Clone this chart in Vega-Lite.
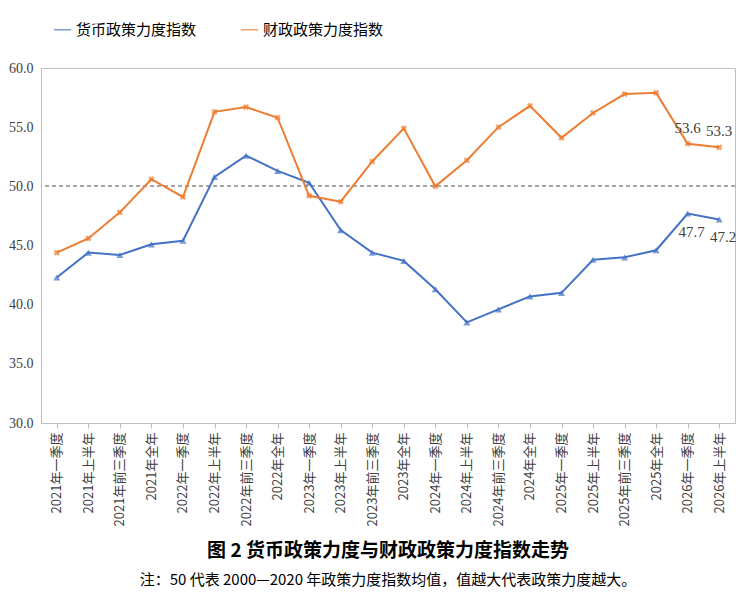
{
  "$schema": "https://vega.github.io/schema/vega-lite/v6.json",
  "width": 750,
  "height": 593,
  "autosize": {"type": "fit", "contains": "padding"},
  "background": "white",
  "padding": {"left": 8, "right": 14, "top": 8, "bottom": 5},
  "config": {"font": "Noto Sans CJK SC", "view": {"stroke": "#bfbfbf"}},
  "title": {
    "text": "图 2  货币政策力度与财政政策力度指数走势",
    "subtitle": "注：50 代表 2000—2020 年政策力度指数均值，值越大代表政策力度越大。",
    "orient": "bottom",
    "anchor": "middle",
    "fontSize": 19,
    "fontWeight": "bold",
    "subtitleFontSize": 15,
    "subtitleColor": "black",
    "subtitlePadding": 12,
    "offset": 16
  },
  "data": {"values": [
    {"q": "2021年一季度", "m": 42.3, "f": 44.4},
    {"q": "2021年上半年", "m": 44.4, "f": 45.6},
    {"q": "2021年前三季度", "m": 44.2, "f": 47.8},
    {"q": "2021年全年", "m": 45.1, "f": 50.6},
    {"q": "2022年一季度", "m": 45.4, "f": 49.1},
    {"q": "2022年上半年", "m": 50.8, "f": 56.3},
    {"q": "2022年前三季度", "m": 52.6, "f": 56.7},
    {"q": "2022年全年", "m": 51.3, "f": 55.8},
    {"q": "2023年一季度", "m": 50.3, "f": 49.2},
    {"q": "2023年上半年", "m": 46.3, "f": 48.7},
    {"q": "2023年前三季度", "m": 44.4, "f": 52.1},
    {"q": "2023年全年", "m": 43.7, "f": 54.9},
    {"q": "2024年一季度", "m": 41.3, "f": 50.0},
    {"q": "2024年上半年", "m": 38.5, "f": 52.2},
    {"q": "2024年前三季度", "m": 39.6, "f": 55.0},
    {"q": "2024年全年", "m": 40.7, "f": 56.8},
    {"q": "2025年一季度", "m": 41.0, "f": 54.1},
    {"q": "2025年上半年", "m": 43.8, "f": 56.2},
    {"q": "2025年前三季度", "m": 44.0, "f": 57.8},
    {"q": "2025年全年", "m": 44.6, "f": 57.9},
    {"q": "2026年一季度", "m": 47.7, "f": 53.6, "lab": true},
    {"q": "2026年上半年", "m": 47.2, "f": 53.3, "lab": true}
  ]},
  "transform": [
    {"fold": ["m", "f"], "as": ["k", "v"]},
    {"calculate": "datum.k == 'm' ? '货币政策力度指数' : '财政政策力度指数'", "as": "series"}
  ],
  "encoding": {
    "x": {"field": "q", "type": "ordinal", "sort": null, "title": null,
      "axis": {"labelAngle": -90, "labelFontSize": 13, "labelColor": "#404040", "ticks": true, "tickColor": "#bfbfbf", "domainColor": "#bfbfbf", "labelPadding": 4}},
    "y": {"field": "v", "type": "quantitative", "title": null,
      "scale": {"domain": [30, 60]},
      "axis": {"values": [30, 35, 40, 45, 50, 55, 60], "format": ".1f", "grid": false, "ticks": false, "domain": false, "labelFontSize": 14, "labelColor": "#404040", "labelFont": "Liberation Serif", "labelPadding": 8}},
    "color": {"field": "series", "type": "nominal",
      "scale": {"domain": ["货币政策力度指数", "财政政策力度指数"], "range": ["#4472C4", "#ED7D31"]},
      "legend": {"orient": "top", "title": null, "labelFontSize": 15, "direction": "horizontal", "symbolType": "stroke", "symbolSize": 300, "columnPadding": 40, "padding": 12}}
  },
  "layer": [
    {"mark": {"type": "rule", "strokeDash": [4, 3], "color": "#a6a6a6"}, "encoding": {"y": {"datum": 50}, "x": {}, "color": {}}},
    {"mark": {"type": "line", "strokeWidth": 2}},
    {"transform": [{"filter": "datum.k == 'm'"}],
      "mark": {"type": "point", "shape": "triangle-up", "filled": true, "size": 50}},
    {"transform": [{"filter": "datum.k == 'f'"}],
      "mark": {"type": "point", "shape": "cross", "angle": 45, "filled": true, "size": 40}},
    {"transform": [{"filter": "datum.lab == true && datum.k == 'f'"}],
      "mark": {"type": "text", "dy": -16, "fontSize": 15, "font": "Liberation Serif", "color": "#404040"},
      "encoding": {"text": {"field": "v", "format": ".1f"}, "color": {"value": "#404040"},
        "y": {"field": "v", "type": "quantitative"}}},
    {"transform": [{"filter": "datum.lab == true && datum.k == 'm'"}],
      "mark": {"type": "text", "dy": 18, "dx": 4, "fontSize": 15, "font": "Liberation Serif", "color": "#404040"},
      "encoding": {"text": {"field": "v", "format": ".1f"}, "color": {"value": "#404040"},
        "y": {"field": "v", "type": "quantitative"}}}
  ]
}
